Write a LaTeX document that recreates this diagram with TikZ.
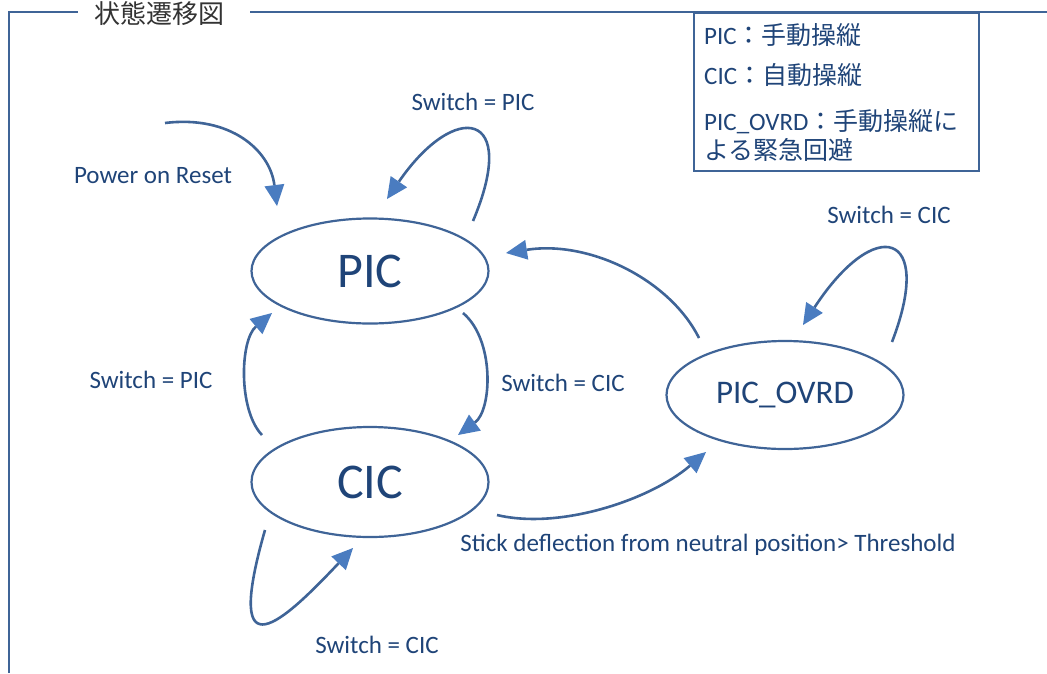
\documentclass[tikz,border=0pt]{standalone}
\usepackage{fontspec}
\setmainfont{Carlito}
\newfontfamily\jp{Noto Sans CJK JP}
\usetikzlibrary{arrows.meta,calc,shapes.geometric}
\definecolor{linec}{HTML}{3F6497}
\definecolor{tipc}{HTML}{4A7CC0}
\definecolor{txtc}{HTML}{1F4478}
\begin{document}
\begin{tikzpicture}[x=1pt,y=-1pt,
  state/.style={draw=linec,line width=2.2pt,ellipse,inner sep=0pt,text=txtc},
  lbl/.style={text=txtc,font=\fontsize{25}{30}\selectfont,inner sep=0pt},
  conn/.style={draw=linec,line width=2.6pt,-{Triangle[length=21pt,width=20pt,fill=tipc,line width=0pt]}},
  frame/.style={draw=linec,line width=2.2pt},
  leg/.style={text=txtc,font=\fontsize{25}{30}\selectfont,inner sep=0pt,anchor=west}]
\useasboundingbox (0,0) rectangle (1047,673);
% frame
\coordinate (f1) at (9,673);
\coordinate (f2) at (9,12);
\coordinate (f3) at (78,12);
\coordinate (f4) at (250,12);
\coordinate (f5) at (1047,12);
\draw[frame] (f1) -- (f2) -- (f3);
\draw[frame] (f4) -- (f5);
\node[inner sep=0pt,text=black!80,font=\jp\fontsize{26}{30}\selectfont] (title) at (159,14) {状態遷移図};
% legend
\node[draw=linec,line width=2.2pt,minimum width=285pt,minimum height=158pt,inner sep=0pt,anchor=north west] (legend) at (693,12) {};
\node[leg] (l1) at (704,35) {PIC{\jp ：手動操縦}};
\node[leg] (l2) at (704,75) {CIC{\jp ：自動操縦}};
\node[leg] (l3) at (704,122) {PIC\_OVRD{\jp ：手動操縦に}};
\node[leg] (l4) at (704,150) {\jp よる緊急回避};
% states
\node[state,minimum width=237pt,minimum height=105pt,font=\fontsize{50}{54}\selectfont] (PIC) at (370,271) {PIC};
\node[state,minimum width=237pt,minimum height=110pt,font=\fontsize{50}{54}\selectfont] (CIC) at (370,482) {CIC};
\node[state,minimum width=237pt,minimum height=108pt,font=\fontsize{33}{38}\selectfont] (OVRD) at (785,395) {PIC\_OVRD};
% labels
\node[lbl] (lpor) at (153,176) {Power on Reset};
\node[lbl] (lp1) at (473,102) {Switch = PIC};
\node[lbl] (lc3) at (889,215) {Switch = CIC};
\node[lbl] (lp2) at (151,380) {Switch = PIC};
\node[lbl] (lc1) at (563,383) {Switch = CIC};
\node[lbl] (lc2) at (377,645) {Switch = CIC};
\node[lbl] (lst) at (708,545) {Stick deflection from neutral position> Threshold};
% connectors
\coordinate (por) at (165,123);
\draw[conn] (por) .. controls (230,115) and (270,150) .. ($(PIC)+(-93,-65)$);
\draw[conn] ($(PIC)+(103,-50)$) .. controls (520,110) and (455,100) .. ($(PIC)+(17,-72)$);
\draw[conn] ($(PIC)+(93,42)$) .. controls (495,340) and (492,410) .. ($(CIC)+(88,-47)$);
\draw[conn] ($(CIC)+(-108,-47)$) .. controls (238,410) and (240,340) .. ($(PIC)+(-98,42)$);
\draw[conn] ($(CIC)+(-105,48)$) .. controls (222,680) and (285,620) .. ($(CIC)+(-17,66)$);
\draw[conn] ($(CIC)+(127,33)$) .. controls (560,530) and (650,500) .. ($(OVRD)+(-79,57)$);
\draw[conn] ($(OVRD)+(-86,-57)$) .. controls (670,280) and (590,240) .. ($(PIC)+(136,-18)$);
\draw[conn] ($(OVRD)+(107,-53)$) .. controls (935,230) and (875,215) .. ($(OVRD)+(18,-70)$);
\end{tikzpicture}
\end{document}
